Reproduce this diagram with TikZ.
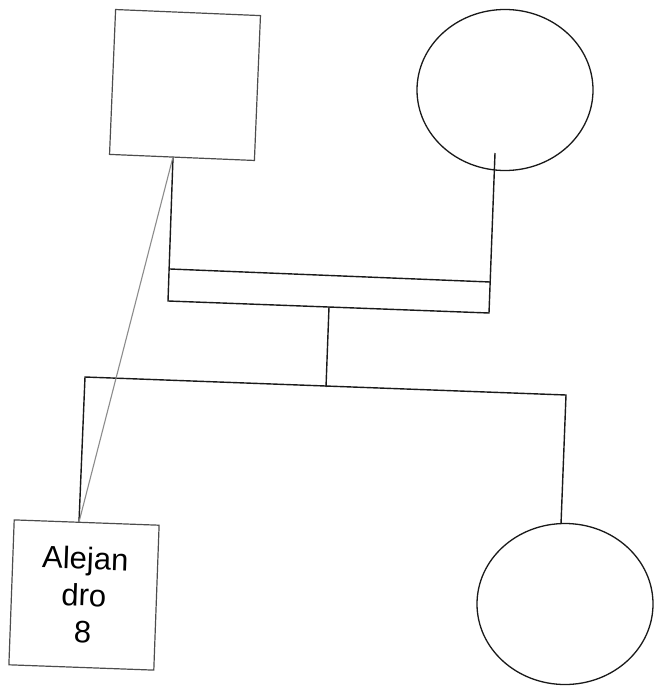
\documentclass[tikz,border=0pt]{standalone}
\usepackage{fontspec}
\setmainfont{Liberation Sans}
\usetikzlibrary{shapes.geometric}
\begin{document}
\begin{tikzpicture}[x=1pt,y=-1pt,
  sq/.style={draw=black!70, line width=1.2pt, minimum width=145pt, minimum height=145pt, inner sep=0pt},
  circ/.style={ellipse, draw=black!90, line width=1.3pt, minimum width=176pt, minimum height=161pt, inner sep=0pt},
  ln/.style={draw=black!90, line width=1.4pt},
  gl/.style={draw=black!45, line width=1.1pt}]
\useasboundingbox (0,0) rectangle (659,698);
\fill[white] (0,0) rectangle (659,698);
% persons
\node[sq, rotate=-2.4] (dad) at (185,85) {};
\node[circ] (mom) at (505,90) {};
\node[sq, rotate=-2.1, align=center, font=\fontsize{31}{37}\selectfont] (alej) at (84,595) {Alejan\\dro\\8};
\node[circ] (sis) at (565,604) {};
% junction points
\coordinate (dadb) at (173,157);
\coordinate (momb) at (495,153);
\coordinate (btl) at (170,269);
\coordinate (btr) at (490,282);
\coordinate (bbl) at (168,301);
\coordinate (bbr) at (489,313);
\coordinate (dropt) at (329,307);
\coordinate (dropb) at (326,387);
\coordinate (sl) at (85,377);
\coordinate (sr) at (566,395);
\coordinate (alejt) at (79,522);
\coordinate (sist) at (561,524);
% connectors
\draw[ln] (dadb) -- (bbl) -- (bbr) -- (momb);
\draw[ln] (btl) -- (btr);
\draw[ln] (dropt) -- (dropb);
\draw[ln] (alejt) -- (sl) -- (sr) -- (sist);
\draw[gl] (dadb) -- (alejt);
\end{tikzpicture}
\end{document}
